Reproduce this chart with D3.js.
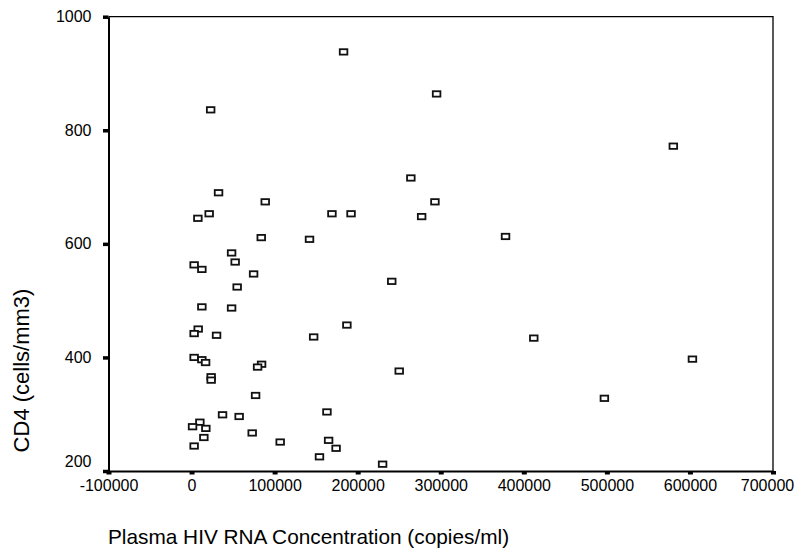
<!DOCTYPE html>
<html>
<head>
<meta charset="utf-8">
<script src="https://cdn.jsdelivr.net/npm/d3@7"></script>
<style>
    body { margin: 0; background: #fff; }
    text { font-family: "Liberation Sans", Arial, sans-serif; fill: #000; }
</style>
</head>
<body>
<div id="chart"></div>
<script>
// plasma HIV RNA (copies/ml) and CD4 (cells/mm3), one entry per patient
const hivRna = [
    183000, 295000, 580000, 264000, 293000, 169000, 192000, 277000, 142000, 378000,
    241000, 187000, 147000, 412000, 603000, 250000, 497000, 163000, 165000, 174000,
    154000, 230000, 23000, 32500, 88700, 21200, 7600, 83900, 48200, 52500,
    3100, 12400, 74700, 54900, 12400, 48200, 8000, 3100, 30100, 3100,
    12400, 16900, 84300, 79500, 23600, 23600, 77100, 37300, 57300, 10000,
    1200, 17200, 73000, 14800, 106700, 3100
];
const cd4 = [
    938, 864, 772, 716, 674, 653, 653, 648, 608, 613,
    534, 457, 436, 434, 397, 376, 328, 304, 254, 240,
    225, 212, 836, 690, 674, 653, 645, 611, 584, 568,
    563, 555, 547, 524, 489, 487, 450, 442, 439, 400,
    396, 391, 388, 383, 366, 360, 333, 299, 296, 286,
    278, 275, 267, 259, 251, 244
];
const xTicks = [-100000, 0, 100000, 200000, 300000, 400000, 500000, 600000, 700000];
const yTicks = [200, 400, 600, 800, 1000];
const xLabel = "Plasma HIV RNA Concentration (copies/ml)";
const yLabel = "CD4 (cells/mm3)";

const size = {width: 795, height: 548};
const margin = {top: 16.7, right: 22, bottom: 77, left: 108.5};
const width = size.width - margin.left - margin.right;
const height = size.height - margin.top - margin.bottom;

const svg = d3.select("#chart").append("svg")
    .attr("width", size.width)
    .attr("height", size.height);

const g = svg.append("g")
    .attr("transform", "translate(" + margin.left + "," + margin.top + ")");

const xScale = d3.scaleLinear().domain([-100000, 700000]).range([0, width]);
const yScale = d3.scaleLinear().domain([200, 1000]).range([height, 0]);

// thin frame on top and right
g.append("path")
    .attr("d", "M0,0H" + width + "V" + height)
    .attr("fill", "none")
    .attr("stroke", "#000")
    .attr("stroke-width", 1.3);

// plain hyphen for negatives, like the original
const fmt = d => String(d);

// x axis
const xAxisG = g.append("g")
    .attr("class", "xAxisG")
    .attr("transform", "translate(0," + height + ")")
    .call(d3.axisBottom(xScale).tickValues(xTicks).tickFormat(fmt)
        .tickSize(3.5).tickSizeOuter(0).tickPadding(5.5));

// y axis
const yAxisG = g.append("g")
    .attr("class", "yAxisG")
    .call(d3.axisLeft(yScale).tickValues(yTicks).tickFormat(fmt)
        .tickSize(5.5).tickSizeOuter(0).tickPadding(11.5));

[xAxisG, yAxisG].forEach(axis => {
    axis.select(".domain").attr("stroke", "#000").attr("stroke-width", 2);
    axis.selectAll("text").style("font-size", "16px").attr("fill", "#000");
});
xAxisG.selectAll(".tick line").attr("stroke", "#000").attr("stroke-width", 5);
yAxisG.selectAll(".tick line").attr("stroke", "#000").attr("stroke-width", 3.5);

// last x label is pulled in so it stays on the page
xAxisG.selectAll(".tick text")
    .filter(d => d === 700000)
    .attr("dx", "-6");

// the bottom label sits a little above its tick
yAxisG.selectAll(".tick text")
    .filter(d => d === 200)
    .attr("dy", "-0.28em");

// markers: small open squares
g.selectAll(".markerRect")
    .data(d3.range(hivRna.length))
    .join("rect")
    .attr("class", "markerRect")
    .attr("x", i => xScale(hivRna[i]) - 3.8)
    .attr("y", i => yScale(cd4[i]) - 2.7)
    .attr("width", 7.6)
    .attr("height", 5.4)
    .attr("fill", "#fff")
    .attr("stroke", "#111")
    .attr("stroke-width", 1.8);

// axis titles
svg.append("text")
    .attr("x", 108)
    .attr("y", 544)
    .style("font-size", "20.8px")
    .text(xLabel);

svg.append("text")
    .attr("text-anchor", "middle")
    .attr("transform", "translate(29,370.5) rotate(-90)")
    .style("font-size", "22px")
    .text(yLabel);
</script>
</body>
</html>
